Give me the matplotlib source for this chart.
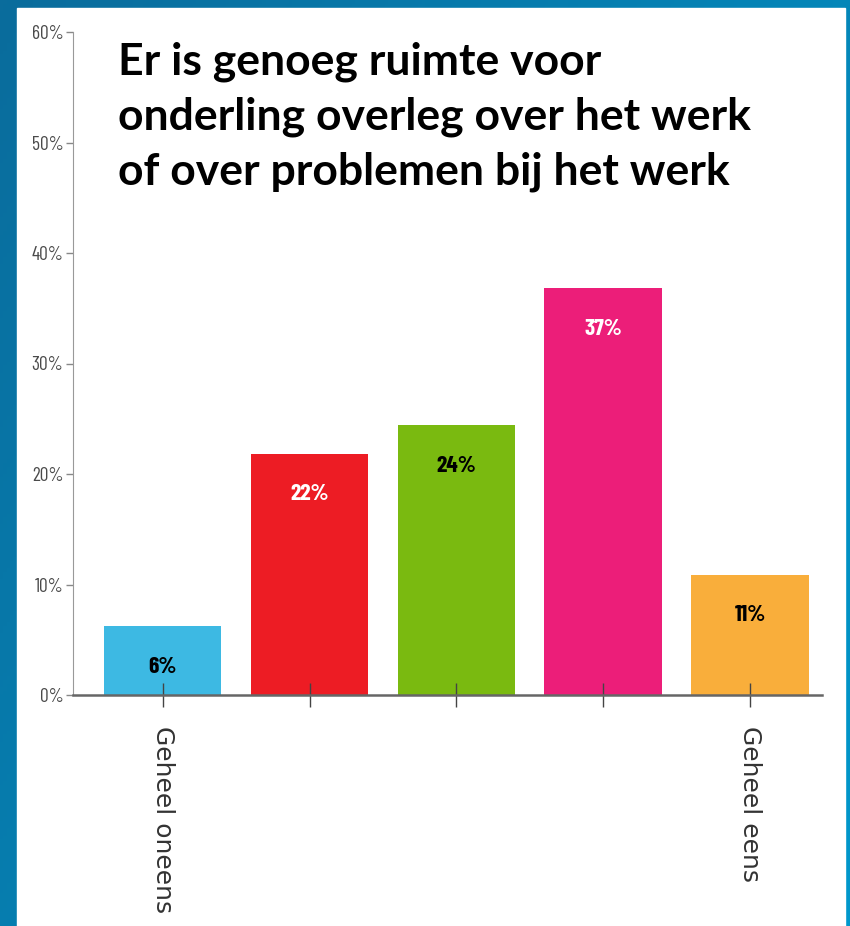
import numpy as np
import matplotlib.pyplot as plt
from matplotlib.patches import Rectangle

categories = ['Geheel oneens', '', '', '', 'Geheel eens']
values = [6.2, 21.8, 24.4, 36.8, 10.9]
labels = ['6%', '22%', '24%', '37%', '11%']
colors = ['#3db9e3', '#ed1c24', '#7aba10', '#ec1e79', '#f9ae3b']
label_colors = ['black', 'white', 'black', 'white', 'black']
yticks = [0, 10, 20, 30, 40, 50, 60]
title = 'Er is genoeg ruimte voor\nonderling overleg over het werk\nof over problemen bij het werk'

narrow = ['Barlow Condensed', 'Archivo Narrow', 'DejaVu Sans']

fig = plt.figure(figsize=(8.5, 9.26), dpi=100)

# blue slide background
bg = fig.add_axes([0, 0, 1, 1])
grad = np.linspace(0, 1, 256)
gx, gy = np.meshgrid(grad, grad)
bg.imshow(0.6 * gx + 0.4 * gy, cmap=plt.matplotlib.colors.LinearSegmentedColormap.from_list(
    'b', ['#0a6c9c', '#0098cc']), extent=[0, 1, 0, 1], aspect='auto', origin='upper')
bg.add_patch(Rectangle((17 / 850, 0), (845 - 17) / 850, (926 - 8) / 926,
                       color='white', transform=bg.transAxes))
bg.set_xlim(0, 1)
bg.set_ylim(0, 1)
bg.axis('off')

ax = fig.add_axes([73 / 850, 231 / 926, (821.7 - 73) / 850, 663 / 926])
ax.patch.set_alpha(0)
x = np.arange(len(values))
bars = ax.bar(x, values, width=0.8, color=colors)
for i, b in enumerate(bars):
    ax.annotate(labels[i], (b.get_x() + b.get_width() / 2, b.get_height()),
                xytext=(0, -29), textcoords='offset points', ha='center', va='center',
                fontsize=17, fontweight='bold', color=label_colors[i], family=narrow)

ax.set_xlim(-0.611, 4.488)
ax.set_ylim(0, 60)
ax.set_yticks(yticks)
ax.set_yticklabels([f'{t}%' for t in yticks], family=narrow, fontsize=14, color='#4a4a4a')
ax.set_xticks(x)
ax.set_xticklabels(categories, rotation=-90, fontsize=18, color='#333333', va='top')
ax.tick_params(axis='x', direction='inout', length=17, width=1, color='#444444', pad=14)
ax.tick_params(axis='y', direction='out', length=5, width=1, color='#888888', pad=2)
for s in ['top', 'right']:
    ax.spines[s].set_visible(False)
ax.spines['left'].set_color('#999999')
ax.spines['bottom'].set_color('#666666')
ax.spines['bottom'].set_linewidth(1.8)

fig.text(118 / 850, 1 - 41 / 926, title, ha='left', va='top', fontsize=32,
         fontweight='bold', family=['Lato', 'DejaVu Sans'], linespacing=1.45)

fig.savefig('out.png', dpi=100)
